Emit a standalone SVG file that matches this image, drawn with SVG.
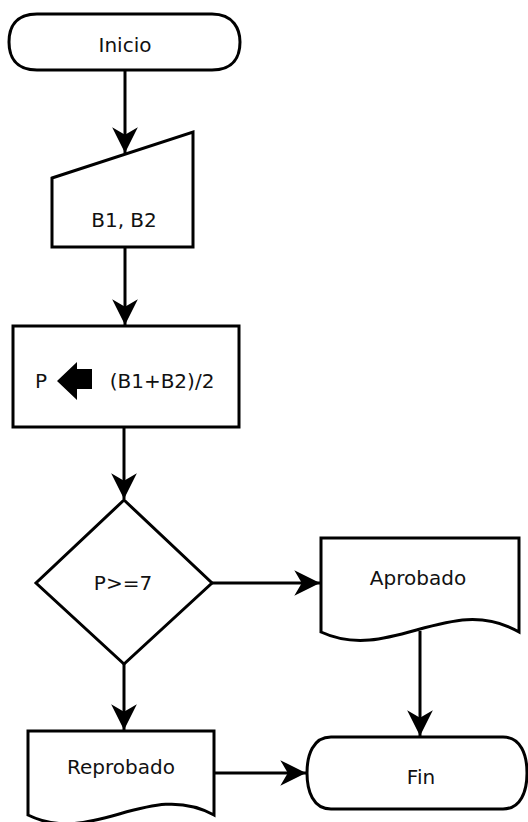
<svg xmlns="http://www.w3.org/2000/svg" width="528" height="822" viewBox="0 0 528 822">
<style>
.s{fill:#fff;stroke:#000;stroke-width:3;stroke-linejoin:miter}
.c{fill:none;stroke:#000;stroke-width:3}
.t{font-family:"DejaVu Sans",Verdana,sans-serif;font-size:20px;fill:#111;text-anchor:middle}
</style>
<defs>
<marker id="a" markerUnits="userSpaceOnUse" markerWidth="30" markerHeight="30" viewBox="-26 -14 28 28" refX="0" refY="0" orient="auto">
<path d="M0,0 L-24,-12 L-17,0 L-24,12 Z" fill="#000"/>
</marker>
</defs>
<rect width="528" height="822" fill="#fff"/>
<g id="connectors">
<line class="c" x1="125" y1="70" x2="125" y2="153" marker-end="url(#a)"/>
<line class="c" x1="125" y1="247" x2="125" y2="325" marker-end="url(#a)"/>
<line class="c" x1="124" y1="427" x2="124" y2="499" marker-end="url(#a)"/>
<line class="c" x1="212" y1="583" x2="320" y2="583" marker-end="url(#a)"/>
<line class="c" x1="124" y1="664" x2="124" y2="730" marker-end="url(#a)"/>
<line class="c" x1="420" y1="631" x2="420" y2="736" marker-end="url(#a)"/>
<line class="c" x1="214" y1="773" x2="306" y2="773" marker-end="url(#a)"/>
</g>
<g id="inicio">
<path class="s" d="M37,14 H212 C234,14 240,30 240,42 C240,56 234,70 212,70 H37 C15,70 9,56 9,42 C9,28 15,14 37,14 Z"/>
<text class="t" x="125" y="52">Inicio</text>
</g>
<g id="entrada">
<path class="s" d="M52,178 L193,132 L193,247 L52,247 Z"/>
<text class="t" x="124" y="227">B1, B2</text>
</g>
<g id="proceso">
<rect class="s" x="13" y="326" width="226" height="101"/>
<text class="t" x="41" y="388">P</text>
<path d="M57,381 L77,362 L77,369 L92,369 L92,389 L77,389 L77,400 Z" fill="#000"/>
<text class="t" x="162" y="388">(B1+B2)/2</text>
</g>
<g id="decision">
<path class="s" d="M124,500 L212,583 L124,664 L36,583 Z"/>
<text class="t" x="123" y="590">P&gt;=7</text>
</g>
<g id="aprobado">
<path class="s" d="M321,538 H519 V632 C450,592 390,664 321,632 Z"/>
<text class="t" x="418" y="585">Aprobado</text>
</g>
<g id="reprobado">
<path class="s" d="M28,731 H214 V815 C149,779 93,847 28,815 Z"/>
<text class="t" x="121" y="774">Reprobado</text>
</g>
<g id="fin">
<path class="s" d="M331,737 H503 C521,737 527,755 527,773 C527,791 521,809 503,809 H331 C313,809 307,791 307,773 C307,755 313,737 331,737 Z"/>
<text class="t" x="421" y="784">Fin</text>
</g>
</svg>
